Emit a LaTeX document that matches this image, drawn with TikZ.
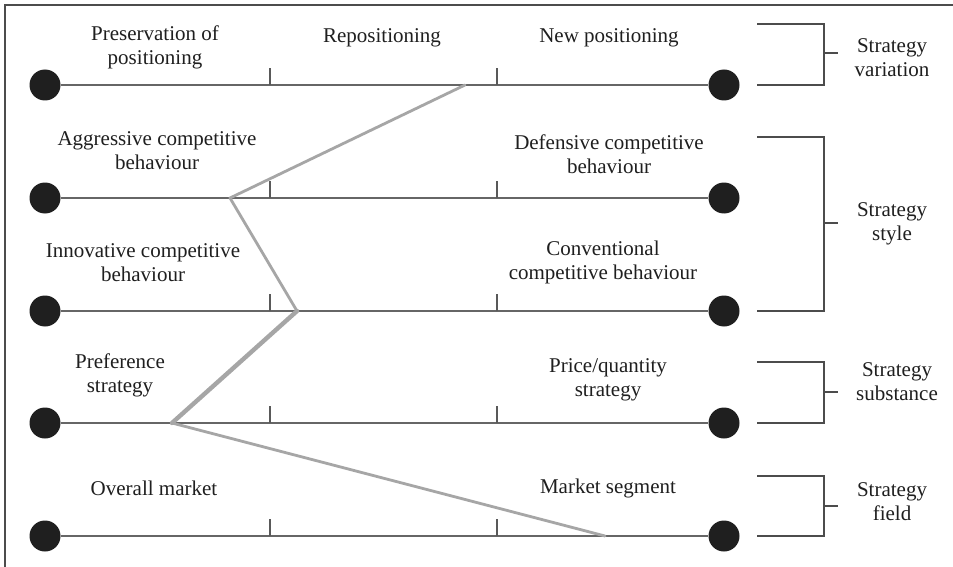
\documentclass[tikz,border=0pt]{standalone}
\usepackage{fontspec}
\setmainfont{Liberation Serif}
\begin{document}
\begin{tikzpicture}[x=1pt,y=-1pt,
  frame/.style={draw=black!70,line width=1.8pt},
  axis/.style={draw=black!60,line width=1.4pt},
  tickmark/.style={draw=black!65,line width=1.3pt},
  pole/.style={circle,fill=black!88,minimum size=31pt,inner sep=0pt},
  profile/.style={draw=black!35,line width=2.8pt,line join=round,line cap=round},
  brace/.style={draw=black!70,line width=1.4pt},
  lbl/.style={align=center,font=\fontsize{21}{24}\selectfont,text=black!88,inner sep=0pt}]
\useasboundingbox (0,0) rectangle (953,567);
\fill[white] (0,0) rectangle (953,567);
\draw[frame] (953,5) -- (5,5) -- (5,567);

% scale axes with end poles and ticks
\foreach \i/\y in {1/85,2/198,3/311,4/423,5/536}{
  \node[pole] (L\i) at (45,\y) {};
  \node[pole] (R\i) at (724,\y) {};
  \coordinate (T\i a) at (270,\y);
  \coordinate (T\i b) at (497,\y);
  \draw[axis] (L\i) -- (R\i);
  \draw[tickmark] (T\i a) -- ++(0,-17);
  \draw[tickmark] (T\i b) -- ++(0,-17);
}

% profile line
\coordinate (P1) at (465,85);
\coordinate (P2) at (230,198);
\coordinate (P3) at (297,311);
\coordinate (P4) at (172,423);
\coordinate (P5) at (605,536);
\draw[profile] (P1) -- (P2) -- (P3);
\draw[profile,line width=4.4pt] (P3) -- (P4);
\draw[profile] (P4) -- (P5);

% pole labels
\node[lbl] (a1) at (155,47) {Preservation of\\positioning};
\node[lbl] (a2) at (382,38) {Repositioning};
\node[lbl] (a3) at (609,38) {New positioning};
\node[lbl] (b1) at (157,151) {Aggressive competitive\\behaviour};
\node[lbl] (b2) at (609,154) {Defensive competitive\\behaviour};
\node[lbl] (c1) at (143,263) {Innovative competitive\\behaviour};
\node[lbl] (c2) at (603,262) {Conventional\\competitive behaviour};
\node[lbl] (d1) at (120,375) {Preference\\strategy};
\node[lbl] (d2) at (608,380) {Price/quantity\\strategy};
\node[lbl] (e1) at (154,488) {Overall market};
\node[lbl] (e2) at (608,488) {Market segment};

% dimension brackets
\foreach \n/\t/\b/\m in {v/24/85/53, s/137/311/223, u/362/423/392, f/476/536/506}{
  \coordinate (B\n t) at (757,\t);
  \coordinate (B\n b) at (757,\b);
  \coordinate (B\n m) at (838,\m);
  \draw[brace] (B\n t) -- (824,\t) -- (824,\b) -- (B\n b);
  \draw[brace] (824,\m) -- (B\n m);
}
\node[lbl] (gv) at (892,58) {Strategy\\variation};
\node[lbl] (gs) at (892,224) {Strategy\\style};
\node[lbl] (gu) at (897,382) {Strategy\\substance};
\node[lbl] (gf) at (892,502) {Strategy\\field};
\end{tikzpicture}
\end{document}
